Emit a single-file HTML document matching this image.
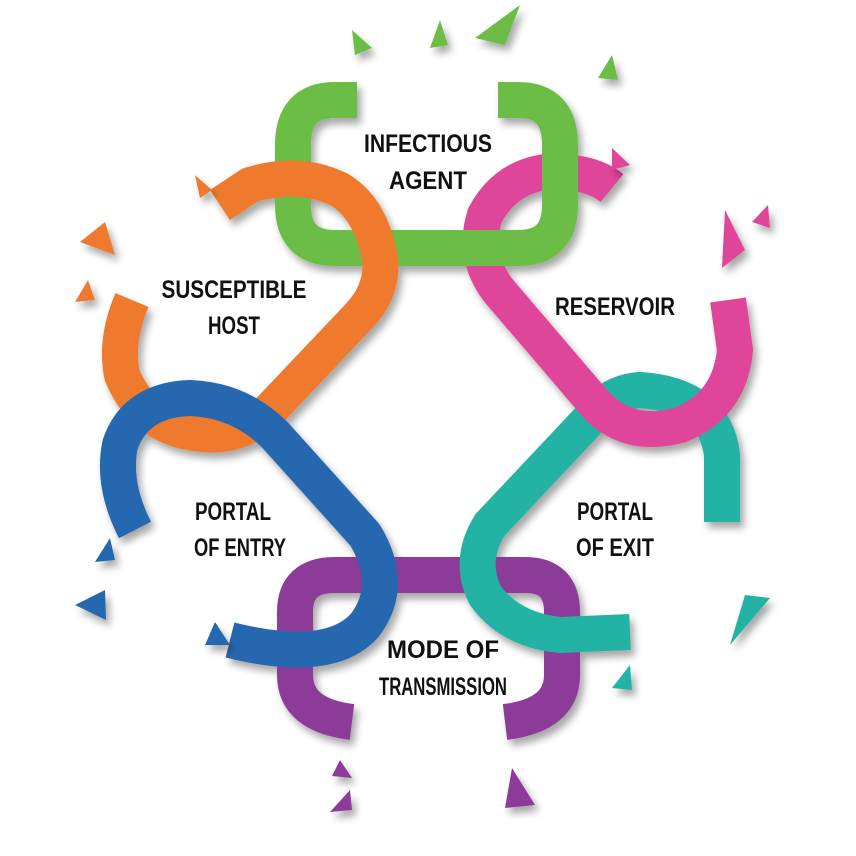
<!DOCTYPE html>
<html><head><meta charset="utf-8"><style>
html,body{margin:0;padding:0;background:#fff;width:856px;height:856px;overflow:hidden}
text{font-family:"Liberation Sans",sans-serif;font-weight:bold;font-size:25px;fill:#111;text-anchor:middle}
path.l{fill:none;stroke-width:36;stroke-linecap:butt;stroke-linejoin:round}
</style></head><body>
<svg width="856" height="856" viewBox="0 0 856 856" xmlns="http://www.w3.org/2000/svg">
<defs><filter id="sh" x="-20%" y="-20%" width="140%" height="140%"><feGaussianBlur in="SourceAlpha" stdDeviation="4"/><feOffset dx="4" dy="6"/><feComponentTransfer><feFuncA type="linear" slope="0.35"/></feComponentTransfer><feMerge><feMergeNode/><feMergeNode in="SourceGraphic"/></feMerge></filter></defs>
<g filter="url(#sh)">
<path class="l" stroke="#8d3a98" d="M352,722 Q295,715 295,675 L295,612 Q295,575 335,575 L525,575 Q562,575 562,612 L562,675 Q562,715 505,722"/>
<path class="l" stroke="#22b3a5" d="M722,522 L722,455 Q715,395 640,390 Q615,392 600,408 L490,525 Q468,560 485,595 Q510,630 560,635 L630,632"/>
<path class="l" stroke="#df4498" d="M612,188 Q590,170 545,172 Q505,178 485,215 Q472,255 498,290 L592,400 Q625,440 680,425 Q730,405 735,350 L728,300"/>
<path class="l" stroke="#6cbd45" d="M357,100 L335,100 Q293,100 293,145 L293,205 Q293,248 335,248 L518,248 Q560,248 560,205 L560,145 Q560,100 518,100 L498,100"/>
<path class="l" stroke="#ef7a2e" d="M220,205 L250,185 Q300,170 340,190 Q372,210 380,260 Q383,290 360,315 L270,410 Q235,445 180,430 Q140,418 122,375 Q115,340 132,300"/>
<path class="l" stroke="#2568b0" d="M135,530 Q112,485 120,445 Q135,400 190,398 Q240,400 275,435 L365,535 Q395,585 365,625 Q330,665 230,640"/>
</g>
<g filter="url(#sh)">
<polygon fill="#6cbd45" points="352,30 372,48 355,55"/>
<polygon fill="#6cbd45" points="440,20 448,45 430,48"/>
<polygon fill="#6cbd45" points="520,5 505,45 475,38"/>
<polygon fill="#6cbd45" points="612,55 618,80 598,78"/>
<polygon fill="#df4498" points="612,148 630,165 612,170"/>
<polygon fill="#df4498" points="768,205 770,228 752,222"/>
<polygon fill="#df4498" points="725,210 745,250 722,268"/>
<polygon fill="#ef7a2e" points="195,175 212,190 200,198"/>
<polygon fill="#ef7a2e" points="105,222 115,255 80,242"/>
<polygon fill="#ef7a2e" points="88,280 95,300 75,302"/>
<polygon fill="#2568b0" points="110,538 115,560 95,562"/>
<polygon fill="#2568b0" points="105,590 106,620 75,605"/>
<polygon fill="#2568b0" points="215,622 230,645 205,645"/>
<polygon fill="#22b3a5" points="745,595 770,598 730,645"/>
<polygon fill="#22b3a5" points="630,665 632,690 612,688"/>
<polygon fill="#8d3a98" points="340,760 352,778 332,776"/>
<polygon fill="#8d3a98" points="350,790 352,810 330,812"/>
<polygon fill="#8d3a98" points="512,768 535,805 505,808"/>
</g>
<text x="428" y="152" textLength="128" lengthAdjust="spacingAndGlyphs">INFECTIOUS</text>
<text x="428" y="189" textLength="78" lengthAdjust="spacingAndGlyphs">AGENT</text>
<text x="234" y="298" textLength="145" lengthAdjust="spacingAndGlyphs">SUSCEPTIBLE</text>
<text x="234" y="334" textLength="52" lengthAdjust="spacingAndGlyphs">HOST</text>
<text x="615" y="315" textLength="120" lengthAdjust="spacingAndGlyphs">RESERVOIR</text>
<text x="233" y="520" textLength="76" lengthAdjust="spacingAndGlyphs">PORTAL</text>
<text x="240" y="556" textLength="92" lengthAdjust="spacingAndGlyphs">OF ENTRY</text>
<text x="615" y="520" textLength="76" lengthAdjust="spacingAndGlyphs">PORTAL</text>
<text x="615" y="556" textLength="78" lengthAdjust="spacingAndGlyphs">OF EXIT</text>
<text x="443" y="658" textLength="112" lengthAdjust="spacingAndGlyphs">MODE OF</text>
<text x="443" y="695" textLength="128" lengthAdjust="spacingAndGlyphs">TRANSMISSION</text>
</svg>
</body></html>
